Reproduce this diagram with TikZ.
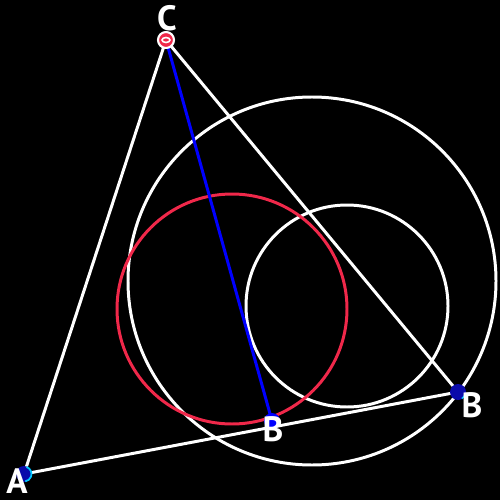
\documentclass[tikz,border=0pt]{standalone}
\usepackage{fontspec}
\setsansfont{PT Sans}
\definecolor{crimson}{RGB}{240,40,74}
\definecolor{darkdot}{RGB}{10,10,170}
\definecolor{skyedge}{RGB}{0,200,255}
\begin{document}
\begin{tikzpicture}[x=0.02cm,y=-0.02cm,
    edge/.style={white,line width=1.7pt},
    ring/.style={line width=1.7pt},
    vlabel/.style={white,font=\sffamily\bfseries\fontsize{20}{20}\selectfont,inner sep=0pt},
    vdot/.style={circle,inner sep=0pt,minimum size=0.32cm}]
  \fill[black] (0,0) rectangle (500,500);
  % points of the triangle
  \coordinate (A) at (24,474);
  \coordinate (B) at (458,392);
  \coordinate (C) at (166,40);
  \coordinate (Bp) at (272,421);
  % circles
  \draw[ring,white] (312,281) circle (184);
  \draw[ring,white] (347,306) circle (101);
  \draw[ring,crimson] (232,309) circle (115);
  % sides and the blue segment
  \draw[edge] (A) -- (B) -- (C) -- cycle;
  \draw[blue,line width=1.7pt] (C) -- (Bp);
  % vertex dots
  \node[vdot,fill=darkdot] (Adot) at (A) {};
  \draw[skyedge,line width=1pt] (A) ++(-70:7.5) arc (-70:80:7.5);
  \node[vdot,fill=darkdot] (Bdot) at (B) {};
  \draw[skyedge,line width=0.8pt] (B) ++(20:7.5) arc (20:60:7.5);
  \node[vdot,fill=blue] (Bpdot) at (Bp) {};
  \node[vdot,fill=crimson,draw=white,line width=1.2pt] (Cdot) at (C) {};
  \draw[white,line width=0.9pt] (C) ellipse (4 and 2.5);
  % labels
  \node[vlabel] (Clab) at (167,18) {C};
  \node[vlabel] (Alab) at (17,481) {A};
  \node[vlabel] (Blab) at (472,405) {B};
  \node[vlabel] (Bplab) at (273,429) {B};
\end{tikzpicture}
\end{document}
